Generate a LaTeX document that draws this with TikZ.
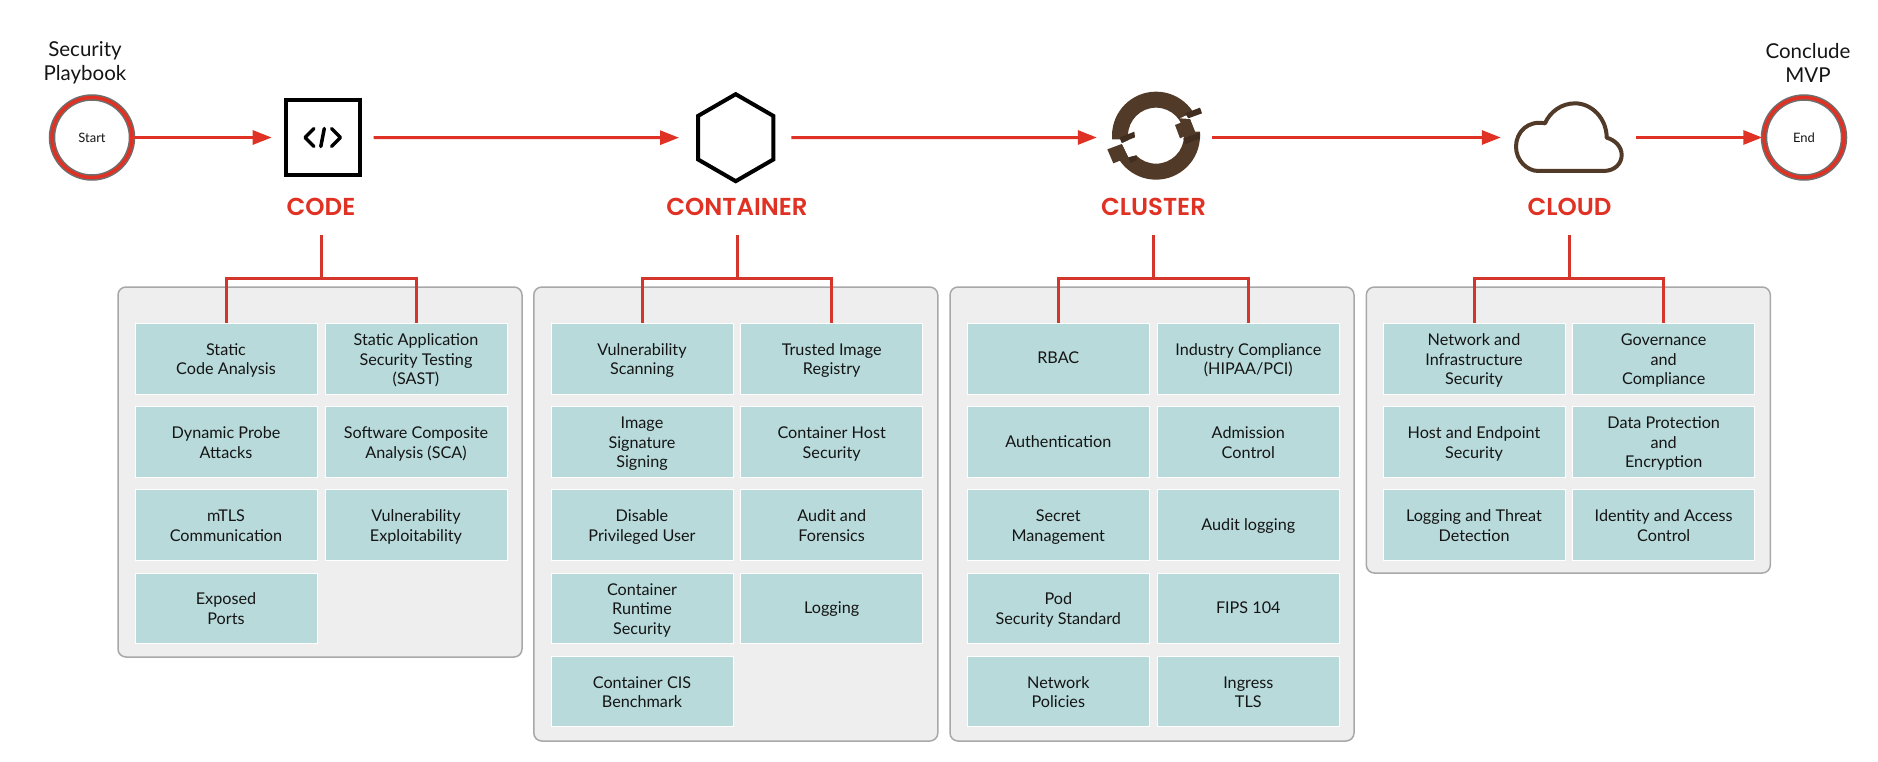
\documentclass[tikz,border=0pt]{standalone}
\usepackage{fontspec}
\setmainfont{Lato}
\newfontfamily\titlefont{Poppins SemiBold}
\usetikzlibrary{arrows.meta,shapes.geometric}
\definecolor{rhred}{RGB}{224,50,36}
\definecolor{rhtree}{RGB}{212,54,44}
\definecolor{rhbrown}{RGB}{82,58,40}
\definecolor{rhdark}{RGB}{66,46,32}
\definecolor{rhteal}{RGB}{184,218,219}
\definecolor{rhpanel}{RGB}{238,238,238}
\definecolor{rhedge}{RGB}{168,168,168}
\definecolor{rhtext}{RGB}{21,21,21}
\definecolor{rhgrey}{RGB}{110,110,110}
\tikzset{
  x=1pt,y=-1pt,
  flow/.style={draw=rhred,line width=3pt,-{Triangle[length=19pt,width=14pt]}},
  tree/.style={draw=rhtree,line width=3pt},
  panel/.style={fill=rhpanel,draw=rhedge,line width=1.5pt,rounded corners=8pt},
  itembase/.style={draw=white,line width=1pt,fill=rhteal,minimum width=182pt,minimum height=70.5pt,inner sep=0pt,align=center,text=rhtext,font=\fontsize{16.2}{19.6}\selectfont},
  itemone/.style={itembase,execute at begin node={\rule[-5pt]{0pt}{20pt}}},
  item/.style={itembase,execute at begin node={\rule[-5pt]{0pt}{42pt}}},
  itemthree/.style={itembase,execute at begin node={\rule[-5pt]{0pt}{61.6pt}}},
  phase/.style={text=rhred,inner sep=0pt,font=\titlefont\fontsize{24.5}{26}\selectfont},
  terminal/.style={circle,draw=rhred,line width=3.5pt,preaction={draw=rhgrey,line width=6.5pt},minimum size=80pt,inner sep=0pt,text=rhtext,font=\fontsize{13}{15}\selectfont},
  caption/.style={align=center,inner sep=0pt,text=rhtext,font=\fontsize{20.5}{24}\selectfont},
  icon/.style={inner sep=0pt,minimum width=80pt,minimum height=80pt}
}
\begin{document}
\begin{tikzpicture}
\useasboundingbox (0,0) rectangle (1878,762);
% captions and terminals
\node[caption] (cap1) at (85,63) {Security\\Playbook};
\node[caption] (cap2) at (1808,63) {Conclude\\MVP};
\node[terminal] (start) at (92,137.5) {Start};
\node[terminal] (end) at (1804,137.5) {End};
% icons
\node[draw=black,line width=4pt,minimum width=74pt,minimum height=75pt,inner sep=0pt] (code) at (322.7,137.5) {};
\node[regular polygon,regular polygon sides=6,shape border rotate=30,draw=black,line width=4pt,minimum size=87pt,inner sep=0pt] (cont) at (735.7,137.7) {};
\node[icon] (clus) at (1156,137.5) {};
\node[icon] (clou) at (1569,137.5) {};
\draw[line width=3.5pt,line cap=round,line join=round] (314,128.5) -- (305,137.5) -- (314,146.5);
\draw[line width=3.5pt,line cap=round,line join=round] (331.5,128.5) -- (340.5,137.5) -- (331.5,146.5);
\draw[line width=3.5pt,line cap=round] (324.3,128.5) -- (320.8,146.5);
% cluster icon
\begin{scope}[shift={(1000,50)},x=0.33333pt,y=-0.33333pt]
  \fill[rhbrown,even odd rule] (468,257) circle[radius=44pt] (468,257) circle[radius=28pt];
  \fill[white] (315,268) -- (360,268) -- (368,284) -- (322,300) -- (315,300) -- cycle;
  \fill[white] (365,280) -- (405,262) -- (425,312) -- (385,322) -- cycle;
  \fill[white] (540,205) -- (615,170) -- (615,245) -- (585,245) -- (570,207) -- cycle;
  \fill[rhbrown] (322,298) -- (365,282) -- (385,322) -- (340,340) -- cycle;
  \fill[rhbrown] (525,225) -- (570,207) -- (585,245) -- (540,265) -- cycle;
  \fill[rhdark] (360,262) -- (403,245) -- (405,262) -- (365,278) -- cycle;
  \fill[rhdark] (555,190) -- (600,173) -- (606,190) -- (565,205) -- cycle;
  \fill[rhdark] (600,247) -- (600,265) -- (555,283) -- (550,265) -- cycle;
  \fill[rhdark] (385,322) -- (410,316) -- (410,330) -- (392,340) -- cycle;
\end{scope}
% cloud icon
\begin{scope}[shift={(1480,20)},x=0.33333pt,y=-0.33333pt]
  \draw[rhbrown,line width=4pt,line join=round] (175,453) -- (370,453) .. controls (405,453) and (425,430) .. (425,405) .. controls (425,380) and (405,360) .. (380,353) .. controls (380,295) and (335,250) .. (285,250) .. controls (245,250) and (210,275) .. (195,310) .. controls (145,300) and (108,335) .. (108,380) .. controls (108,420) and (140,453) .. (175,453) -- cycle;
\end{scope}
% flow
\draw[flow] (start) -- ([xshift=-12pt]code.west);
\draw[flow,shorten <=12pt,shorten >=17pt] (code.east) -- (cont.west);
\draw[flow] ([xshift=16pt]cont.east) -- ([xshift=-19pt]clus.west);
\draw[flow] ([xshift=16pt]clus.east) -- ([xshift=-28pt]clou.west);
\draw[flow] ([xshift=27pt]clou.east) -- (end.west);
% titles
\node[phase] (t1) at (321,206.7) {CODE};
\node[phase] (t2) at (737,206.7) {CONTAINER};
\node[phase] (t3) at (1153.5,206.7) {CLUSTER};
\node[phase] (t4) at (1569.5,206.7) {CLOUD};
% panels
\node[panel,minimum width=404pt,minimum height=370pt,inner sep=0pt] (p1) at (320,472) {};
\node[panel,minimum width=404pt,minimum height=454pt,inner sep=0pt] (p2) at (735.8,514) {};
\node[panel,minimum width=404pt,minimum height=454pt,inner sep=0pt] (p3) at (1152,514) {};
\node[panel,minimum width=404pt,minimum height=286pt,inner sep=0pt] (p4) at (1568.3,430) {};
% code
\node[item] (a11) at (226,358.8) {Static\\Code Analysis};
\node[itemthree] (a12) at (416,358.8) {Static Application\\Security Testing\\(SAST)};
\node[item] (a21) at (226,442) {Dynamic Probe\\Attacks};
\node[item] (a22) at (416,442) {Software Composite\\Analysis (SCA)};
\node[item] (a31) at (226,525.2) {mTLS\\Communication};
\node[item] (a32) at (416,525.2) {Vulnerability\\Exploitability};
\node[item] (a41) at (226,608.4) {Exposed\\Ports};
% container
\node[item] (b11) at (642,358.8) {Vulnerability\\Scanning};
\node[item] (b12) at (831.7,358.8) {Trusted Image\\Registry};
\node[itemthree] (b21) at (642,442) {Image\\Signature\\Signing};
\node[item] (b22) at (831.7,442) {Container Host\\Security};
\node[item] (b31) at (642,525.2) {Disable\\Privileged User};
\node[item] (b32) at (831.7,525.2) {Audit and\\Forensics};
\node[itemthree] (b41) at (642,608.4) {Container\\Runtime\\Security};
\node[itemone] (b42) at (831.7,608.4) {Logging};
\node[item] (b51) at (642,691.6) {Container CIS\\Benchmark};
% cluster
\node[itemone] (c11) at (1058.3,358.8) {RBAC};
\node[item] (c12) at (1248.3,358.8) {Industry Compliance\\(HIPAA/PCI)};
\node[itemone] (c21) at (1058.3,442) {Authentication};
\node[item] (c22) at (1248.3,442) {Admission\\Control};
\node[item] (c31) at (1058.3,525.2) {Secret\\Management};
\node[itemone] (c32) at (1248.3,525.2) {Audit logging};
\node[item] (c41) at (1058.3,608.4) {Pod\\Security Standard};
\node[itemone] (c42) at (1248.3,608.4) {FIPS 104};
\node[item] (c51) at (1058.3,691.6) {Network\\Policies};
\node[item] (c52) at (1248.3,691.6) {Ingress\\TLS};
% cloud
\node[itemthree] (d11) at (1474,358.8) {Network and\\Infrastructure\\Security};
\node[itemthree] (d12) at (1663.7,358.8) {Governance\\and\\Compliance};
\node[item] (d21) at (1474,442) {Host and Endpoint\\Security};
\node[itemthree] (d22) at (1663.7,442) {Data Protection\\and\\Encryption};
\node[item] (d31) at (1474,525.2) {Logging and Threat\\Detection};
\node[item] (d32) at (1663.7,525.2) {Identity and Access\\Control};
% brackets
\coordinate (s1) at (321.4,235);   \coordinate (j1) at (321.4,278.5);
\coordinate (s2) at (737,235);     \coordinate (j2) at (737,278.5);
\coordinate (s3) at (1153.5,235);  \coordinate (j3) at (1153.5,278.5);
\coordinate (s4) at (1569.5,235);  \coordinate (j4) at (1569.5,278.5);
\draw[tree] (s1) -- (j1);
\draw[tree] (a11.north) |- (j1) -| (a12.north);
\draw[tree] (s2) -- (j2);
\draw[tree] (b11.north) |- (j2) -| (b12.north);
\draw[tree] (s3) -- (j3);
\draw[tree] (c11.north) |- (j3) -| (c12.north);
\draw[tree] (s4) -- (j4);
\draw[tree] (d11.north) |- (j4) -| (d12.north);
\end{tikzpicture}
\end{document}
